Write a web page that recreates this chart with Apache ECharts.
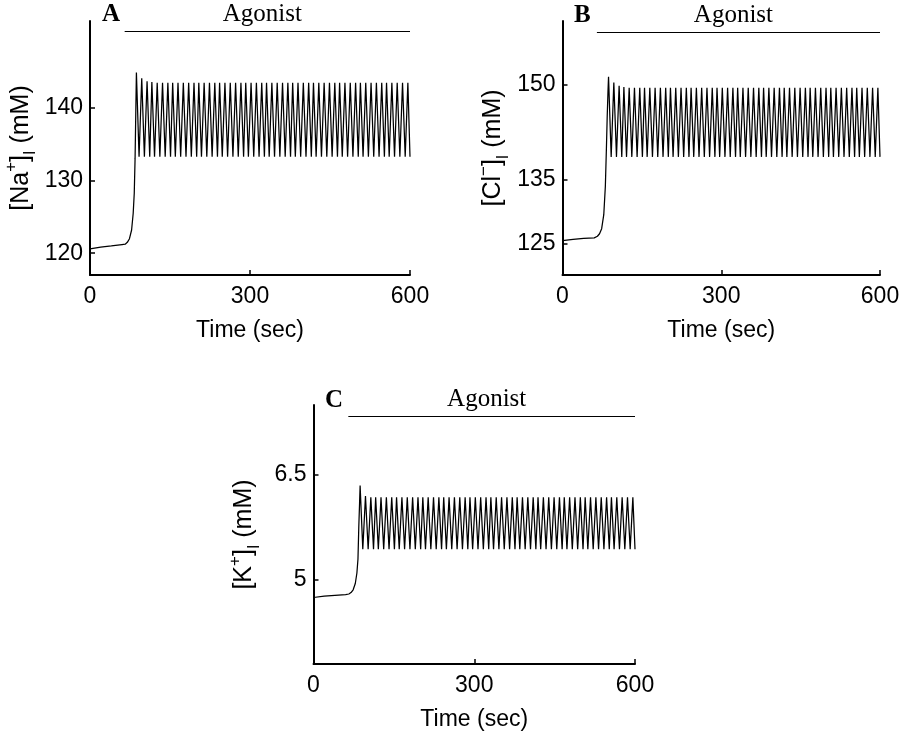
<!DOCTYPE html>
<html>
<head>
<meta charset="utf-8">
<script src="https://cdn.jsdelivr.net/npm/echarts@6/dist/echarts.min.js"></script>
<style>
  html, body { margin: 0; padding: 0; background: #fff; }
  #chart { width: 900px; height: 731px; }
</style>
</head>
<body>
<div id="chart"></div>
<script>
// time points (sec) shared by the three traces
const preTimes = [0, 20, 40, 60, 66, 70, 74, 78, 81, 83, 84.5, 86]
const peakTimes = [
  87, 97, 107, 116, 126, 136, 146, 155, 165, 175,
  185, 195, 204, 214, 224, 234, 243, 253, 263, 273,
  283, 292, 302, 312, 322, 331, 341, 351, 361, 371,
  380, 390, 400, 410, 419, 429, 439, 449, 459, 468,
  478, 488, 498, 507, 517, 527, 537, 547, 556, 566,
  576, 586, 596
]
const troughTimes = [
  92, 102, 112, 121, 131, 141, 151, 160, 170, 180,
  190, 200, 209, 219, 229, 239, 248, 258, 268, 278,
  288, 297, 307, 317, 327, 336, 346, 356, 366, 376,
  385, 395, 405, 415, 424, 434, 444, 454, 464, 473,
  483, 493, 503, 512, 522, 532, 542, 552, 561, 571,
  581, 591, 600
]
const agonistOn = 65
const agonistOff = 600

// A: [Na+]i
const naPre = [120.6, 120.85, 121.0, 121.2, 121.25, 121.5, 122.0, 123.2, 125.5, 128.3, 133, 140]
const naPeaks = [
  144.9, 144.1, 143.7, 143.6, 143.5, 143.5, 143.5, 143.5, 143.5, 143.5,
  143.5, 143.5, 143.5, 143.5, 143.5, 143.5, 143.5, 143.5, 143.5, 143.5,
  143.5, 143.5, 143.5, 143.5, 143.5, 143.5, 143.5, 143.5, 143.5, 143.5,
  143.5, 143.5, 143.5, 143.5, 143.5, 143.5, 143.5, 143.5, 143.5, 143.5,
  143.5, 143.5, 143.5, 143.5, 143.5, 143.5, 143.5, 143.5, 143.5, 143.5,
  143.5, 143.5, 143.5
]
const naTroughs = [
  133.3, 133.3, 133.3, 133.3, 133.3, 133.3, 133.3, 133.3, 133.3, 133.3,
  133.3, 133.3, 133.3, 133.3, 133.3, 133.3, 133.3, 133.3, 133.3, 133.3,
  133.3, 133.3, 133.3, 133.3, 133.3, 133.3, 133.3, 133.3, 133.3, 133.3,
  133.3, 133.3, 133.3, 133.3, 133.3, 133.3, 133.3, 133.3, 133.3, 133.3,
  133.3, 133.3, 133.3, 133.3, 133.3, 133.3, 133.3, 133.3, 133.3, 133.3,
  133.3, 133.3, 133.3
]
const naTicks = [120, 130, 140]
const naLevel = 150.6

// B: [Cl-]i
const clPre = [125.4, 125.6, 125.75, 125.85, 126.1, 126.5, 127.3, 129.5, 134, 140, 145, 149]
const clPeaks = [
  151.2, 150.3, 149.8, 149.6, 149.5, 149.5, 149.5, 149.5, 149.5, 149.5,
  149.5, 149.5, 149.5, 149.5, 149.5, 149.5, 149.5, 149.5, 149.5, 149.5,
  149.5, 149.5, 149.5, 149.5, 149.5, 149.5, 149.5, 149.5, 149.5, 149.5,
  149.5, 149.5, 149.5, 149.5, 149.5, 149.5, 149.5, 149.5, 149.5, 149.5,
  149.5, 149.5, 149.5, 149.5, 149.5, 149.5, 149.5, 149.5, 149.5, 149.5,
  149.5, 149.5, 149.5
]
const clTroughs = [
  138.6, 138.6, 138.6, 138.6, 138.6, 138.6, 138.6, 138.6, 138.6, 138.6,
  138.6, 138.6, 138.6, 138.6, 138.6, 138.6, 138.6, 138.6, 138.6, 138.6,
  138.6, 138.6, 138.6, 138.6, 138.6, 138.6, 138.6, 138.6, 138.6, 138.6,
  138.6, 138.6, 138.6, 138.6, 138.6, 138.6, 138.6, 138.6, 138.6, 138.6,
  138.6, 138.6, 138.6, 138.6, 138.6, 138.6, 138.6, 138.6, 138.6, 138.6,
  138.6, 138.6, 138.6
]
const clTicks = [125, 135, 150]
const clLevel = 158.3

// C: [K+]i
const kPre = [4.75, 4.77, 4.78, 4.79, 4.8, 4.82, 4.86, 4.95, 5.1, 5.3, 5.75, 6.1]
const kPeaks = [
  6.35, 6.2, 6.18, 6.18, 6.18, 6.18, 6.18, 6.18, 6.18, 6.18,
  6.18, 6.18, 6.18, 6.18, 6.18, 6.18, 6.18, 6.18, 6.18, 6.18,
  6.18, 6.18, 6.18, 6.18, 6.18, 6.18, 6.18, 6.18, 6.18, 6.18,
  6.18, 6.18, 6.18, 6.18, 6.18, 6.18, 6.18, 6.18, 6.18, 6.18,
  6.18, 6.18, 6.18, 6.18, 6.18, 6.18, 6.18, 6.18, 6.18, 6.18,
  6.18, 6.18, 6.18
]
const kTroughs = [
  5.44, 5.44, 5.44, 5.44, 5.44, 5.44, 5.44, 5.44, 5.44, 5.44,
  5.44, 5.44, 5.44, 5.44, 5.44, 5.44, 5.44, 5.44, 5.44, 5.44,
  5.44, 5.44, 5.44, 5.44, 5.44, 5.44, 5.44, 5.44, 5.44, 5.44,
  5.44, 5.44, 5.44, 5.44, 5.44, 5.44, 5.44, 5.44, 5.44, 5.44,
  5.44, 5.44, 5.44, 5.44, 5.44, 5.44, 5.44, 5.44, 5.44, 5.44,
  5.44, 5.44, 5.44
]
const kTicks = [5, 6.5]
const kLevel = 7.34

const SANS = 'Liberation Sans, Arial, sans-serif'
const SERIF = 'Liberation Serif, Times New Roman, serif'

function trace (pre, peaks, troughs) {
  const pts = preTimes.map((t, i) => [t, pre[i]])
  peakTimes.forEach((t, i) => {
    pts.push([t, peaks[i]])
    pts.push([troughTimes[i], troughs[i]])
  })
  return pts
}

const chart = echarts.init(document.getElementById('chart'), null, { renderer: 'canvas' })

const grids = [
  { left: 90, top: 21, width: 320, height: 254 },
  { left: 562.5, top: 21, width: 317.5, height: 254 },
  { left: 313.5, top: 405, width: 321.5, height: 259 }
]

const richName = {
  b: { fontFamily: SANS, fontSize: 25, color: '#000', lineHeight: 36, verticalAlign: 'middle' },
  sup: { fontFamily: SANS, fontSize: 17, color: '#000', lineHeight: 36, verticalAlign: 'top' },
  sub: { fontFamily: SANS, fontSize: 16, color: '#000', lineHeight: 36, verticalAlign: 'bottom' }
}

function xAxis (idx) {
  return {
    gridIndex: idx,
    type: 'value',
    min: 0,
    max: 600,
    interval: 300,
    name: 'Time (sec)',
    nameLocation: 'middle',
    nameGap: 44,
    nameTextStyle: { fontFamily: SANS, fontSize: 23, color: '#000' },
    axisLine: { show: true, lineStyle: { color: '#000', width: 2 } },
    axisTick: { show: true, inside: true, length: 5, lineStyle: { color: '#000', width: 1.5 } },
    axisLabel: { fontFamily: SANS, fontSize: 23, color: '#000', margin: 10 },
    splitLine: { show: false }
  }
}

function yAxis (idx, min, max, ticks, name) {
  return {
    gridIndex: idx,
    type: 'value',
    min: min,
    max: max,
    name: name,
    nameLocation: 'middle',
    nameRotate: 90,
    nameGap: 51,
    nameTextStyle: { rich: richName },
    axisLine: { show: true, lineStyle: { color: '#000', width: 2 } },
    axisTick: { show: true, inside: true, length: 5, customValues: ticks, lineStyle: { color: '#000', width: 1.5 } },
    axisLabel: { fontFamily: SANS, fontSize: 23, color: '#000', margin: 7, customValues: ticks },
    splitLine: { show: false }
  }
}

function series (idx, data, level) {
  return {
    type: 'line',
    xAxisIndex: idx,
    yAxisIndex: idx,
    data: data,
    showSymbol: false,
    symbol: 'none',
    lineStyle: { color: '#000', width: 1.25 },
    clip: false,
    markLine: {
      silent: true,
      symbol: 'none',
      animation: false,
      lineStyle: { color: '#000', width: 1, type: 'solid' },
      label: {
        show: true,
        position: 'middle',
        formatter: 'Agonist',
        fontFamily: SERIF,
        fontSize: 25,
        color: '#000',
        distance: 4,
        padding: [0, 10, 0, 0]
      },
      data: [[{ coord: [agonistOn, level] }, { coord: [agonistOff, level] }]]
    }
  }
}

function letter (text, x, y) {
  return {
    type: 'text',
    left: x,
    top: y,
    style: { text: text, fontFamily: SERIF, fontWeight: 'bold', fontSize: 25, fill: '#000' }
  }
}

chart.setOption({
  animation: false,
  grid: grids.map(g => Object.assign({ containLabel: false, outerBoundsMode: 'none' }, g)),
  xAxis: [xAxis(0), xAxis(1), xAxis(2)],
  yAxis: [
    yAxis(0, 117, 152, naTicks, '{b|[Na}{sup|+}{b|]}{sub|I}{b| (mM)}'),
    yAxis(1, 120, 160, clTicks, '{b|[Cl}{sup|−}{b|]}{sub|I}{b| (mM)}'),
    yAxis(2, 3.8, 7.5, kTicks, '{b|[K}{sup|+}{b|]}{sub|I}{b| (mM)}')
  ],
  series: [
    series(0, trace(naPre, naPeaks, naTroughs), naLevel),
    series(1, trace(clPre, clPeaks, clTroughs), clLevel),
    series(2, trace(kPre, kPeaks, kTroughs), kLevel)
  ],
  graphic: [
    letter('A', 102, 2),
    letter('B', 574, 3),
    letter('C', 325, 388)
  ]
})

window.addEventListener('resize', () => chart.resize())
</script>
</body>
</html>
